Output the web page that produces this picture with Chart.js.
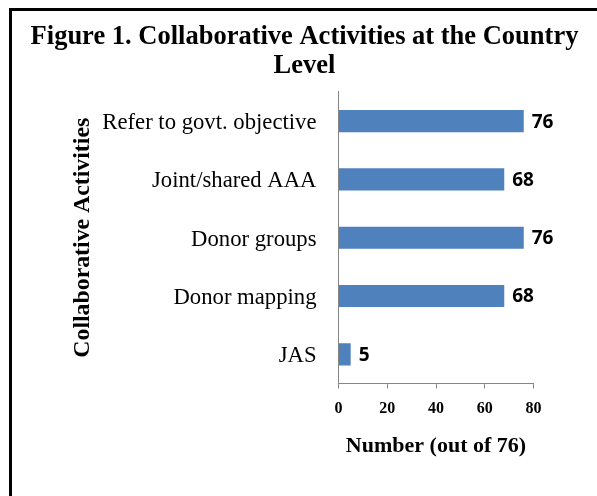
<!DOCTYPE html>
<html>
<head>
<meta charset="utf-8">
<script src="https://cdn.jsdelivr.net/npm/chart.js@4.4.1/dist/chart.umd.min.js"></script>
<style>
html, body { margin: 0; padding: 0; background: #fff; }
#wrap { position: relative; width: 597px; height: 496px; }
</style>
</head>
<body>
<div id="wrap"><canvas id="chart_collabActivities"></canvas></div>
<script>
var titleLines = ['Figure 1. Collaborative Activities at the Country', 'Level'];
var activities = ['Refer to govt. objective', 'Joint/shared AAA', 'Donor groups', 'Donor mapping', 'JAS'];
var counts = [76, 68, 76, 68, 5];
var xTicks = [0, 20, 40, 60, 80];
var xAxisTitle = 'Number (out of 76)';
var yAxisTitle = 'Collaborative Activities';

var serif = "'Liberation Serif', 'Times New Roman', serif";

var chart_collabActivities = new Chart(document.getElementById('chart_collabActivities'), {
    type: 'bar',
    data: {
        labels: activities,
        datasets: [
            {
                label: 'Number',
                data: counts,
                backgroundColor: '#4F81BD',
                borderWidth: 0,
                categoryPercentage: 1.0,
                barPercentage: 0.38,
                xAxisID: 'x',
                yAxisID: 'y'
            }
        ]
    },
    options: {
        animation: false,
        responsive: true,
        maintainAspectRatio: false,
        indexAxis: 'y',
        layout: {
            padding: { left: 12, right: 0, top: 0, bottom: 0 }
        },
        plugins: {
            legend: { display: false },
            tooltip: { enabled: false },
            title: {
                display: true,
                text: titleLines,
                color: '#000',
                font: { family: serif, size: 26.5, weight: 'bold', lineHeight: 1.094 },
                padding: { top: 23, bottom: 11 }
            }
        },
        scales: {
            x: {
                type: 'linear',
                position: 'bottom',
                min: xTicks[0],
                max: xTicks[xTicks.length - 1],
                ticks: {
                    stepSize: xTicks[1] - xTicks[0],
                    color: '#000',
                    padding: 11,
                    font: { family: serif, size: 16, weight: 'bold' }
                },
                grid: {
                    display: true,
                    drawOnChartArea: false,
                    drawTicks: true,
                    tickLength: 5,
                    color: '#868686'
                },
                border: { display: true, color: '#868686', width: 1 },
                title: {
                    display: true,
                    text: xAxisTitle,
                    color: '#000',
                    font: { family: serif, size: 22, weight: 'bold' },
                    padding: { top: 0, bottom: 36 }
                },
                afterFit: function(scale) { scale.height = 112.5; }
            },
            y: {
                type: 'category',
                position: 'left',
                ticks: {
                    color: '#000',
                    padding: 22,
                    labelOffset: 2,
                    font: { family: serif, size: 22.7 }
                },
                grid: { display: false, drawTicks: false },
                border: { display: true, color: '#868686', width: 1 },
                title: {
                    display: true,
                    text: yAxisTitle,
                    color: '#000',
                    font: { family: serif, size: 23.8, weight: 'bold' },
                    padding: { top: 57, bottom: 0 }
                },
                afterFit: function(scale) { scale.width = 326.5; }
            },
            gap: {
                type: 'linear',
                position: 'right',
                display: true,
                ticks: { display: false },
                grid: { display: false, drawTicks: false },
                border: { display: false },
                afterFit: function(scale) { scale.width = 63.5; }
            }
        }
    },
    plugins: [{
        id: 'customPlugin',
        beforeDraw: (chart, args, options) => {
            const ctx = chart.canvas.getContext('2d');
            ctx.save();
            ctx.globalCompositeOperation = 'destination-over';
            ctx.fillStyle = 'white';
            ctx.fillRect(0, 0, chart.canvas.width, chart.canvas.height);
            ctx.restore();
        },
        afterDatasetsDraw: (chart) => {
            const ctx = chart.ctx;
            const meta = chart.getDatasetMeta(0);
            ctx.save();
            ctx.fillStyle = '#000';
            ctx.font = "bold 19px 'Open Sans', 'Liberation Sans', sans-serif";
            ctx.textAlign = 'left';
            ctx.textBaseline = 'middle';
            meta.data.forEach(function(bar, i) {
                ctx.fillText(String(counts[i]), bar.x + 8, bar.y + 1);
            });
            ctx.restore();
        },
        afterDraw: (chart) => {
            // frame round the figure: top and left edges only
            const ctx = chart.ctx;
            ctx.save();
            ctx.fillStyle = '#000';
            ctx.fillRect(9, 8, 588, 3);
            ctx.fillRect(9, 8, 3, 488);
            ctx.restore();
        }
    }]
});
</script>
</body>
</html>
